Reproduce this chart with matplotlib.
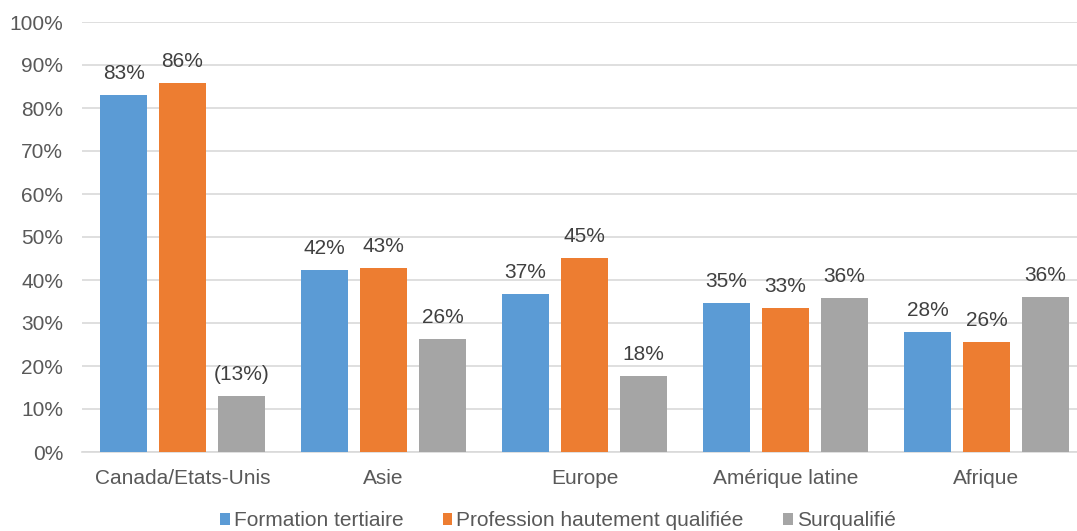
import matplotlib
matplotlib.use("Agg")
import matplotlib.pyplot as plt
import numpy as np

categories = ["Canada/Etats-Unis", "Asie", "Europe", "Amérique latine", "Afrique"]
series_names = ["Formation tertiaire", "Profession hautement qualifiée", "Surqualifié"]
formation = [83.0, 42.4, 36.8, 34.7, 27.8]
profession = [85.9, 42.9, 45.1, 33.5, 25.6]
surqualifie = [13.0, 26.2, 17.6, 35.9, 36.0]
formation_labels = ["83%", "42%", "37%", "35%", "28%"]
profession_labels = ["86%", "43%", "45%", "33%", "26%"]
surqualifie_labels = ["(13%)", "26%", "18%", "36%", "36%"]
yticks = [0, 10, 20, 30, 40, 50, 60, 70, 80, 90, 100]
colors = ["#5B9BD5", "#ED7D31", "#A5A5A5"]

plt.rcParams['font.family'] = ['Liberation Sans', 'DejaVu Sans']
txt = "#595959"
fs = 15

fig = plt.figure(figsize=(10.77, 5.31), dpi=100)
W, H = 1077, 531
left, right, top, bottom = 82, 1087, 22, 452
ax = fig.add_axes([left / W, 1 - bottom / H, (right - left) / W, (bottom - top) / H])

x = np.arange(len(categories))
w = 0.234
step = 0.293
data = [formation, profession, surqualifie]
labels = [formation_labels, profession_labels, surqualifie_labels]
for i, (vals, labs, c, name) in enumerate(zip(data, labels, colors, series_names)):
    pos = x + (i - 1) * step
    ax.bar(pos, vals, width=w, color=c, label=name, zorder=3)
    for p, v, l in zip(pos, vals, labs):
        ax.annotate(l, (p, v), xytext=(0, 15.5), textcoords='offset points',
                    ha='center', va='center', fontsize=fs, color="#404040")

ax.set_xlim(-0.5, len(categories) - 0.5)
ax.set_ylim(0, 100)
ax.set_yticks(yticks)
ax.set_yticklabels([f"{t}%" for t in yticks])
ax.set_xticks(x)
ax.set_xticklabels(categories)
ax.tick_params(axis='both', length=0, labelsize=fs, colors=txt)
ax.tick_params(axis='y', pad=13.5)
ax.tick_params(axis='x', pad=12.5)
ax.grid(axis='y', color="#D9D9D9", linewidth=1.2, zorder=0)
for s in ['top', 'right', 'left']:
    ax.spines[s].set_visible(False)
ax.spines['bottom'].set_color("#D9D9D9")
ax.spines['bottom'].set_linewidth(1.2)

leg = fig.legend(loc='center', bbox_to_anchor=(558 / W, 1 - 521 / H), ncol=3, frameon=False,
                 fontsize=fs, handlelength=0.45, handleheight=0.45, handletextpad=0.2,
                 columnspacing=1.9)
for t in leg.get_texts():
    t.set_color(txt)

fig.savefig("out.png", dpi=100)
